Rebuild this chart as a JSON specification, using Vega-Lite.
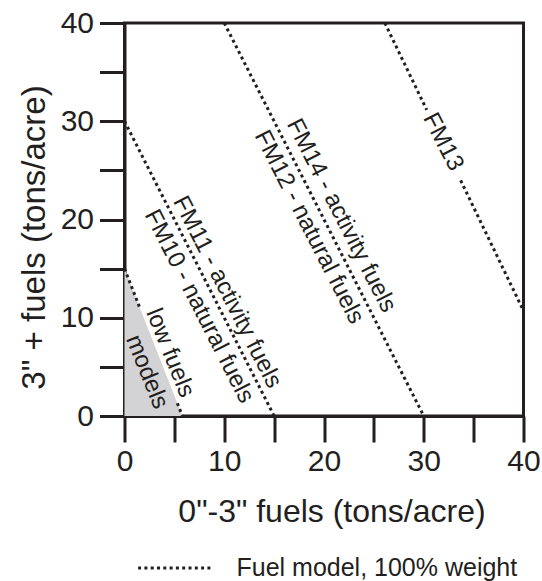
{
  "$schema": "https://vega.github.io/schema/vega-lite/v6.json",
  "autosize": "none",
  "width": 399,
  "height": 393,
  "padding": {"left": 124.5, "top": 23, "right": 18.5, "bottom": 165},
  "background": "white",
  "config": {
    "view": {"stroke": "#231f20", "strokeWidth": 3},
    "font": "Liberation Sans",
    "axis": {
      "grid": false,
      "domainColor": "#231f20",
      "domainWidth": 3,
      "tickColor": "#231f20",
      "tickWidth": 3,
      "labelFont": "Liberation Sans",
      "labelFontSize": 30,
      "labelColor": "#231f20",
      "labelFlush": false,
      "labelOverlap": false,
      "labelBound": false,
      "titleFont": "Liberation Sans",
      "titleFontWeight": "normal",
      "titleColor": "#231f20"
    }
  },
  "datasets": {
    "tri": [
      {"x": 0, "y": 15},
      {"x": 5.8, "y": 0}
    ],
    "lines": [
      {"seg": "a1", "kind": "Fuel model, 100% weight", "x": 0, "y": 15},
      {"seg": "a1", "kind": "Fuel model, 100% weight", "x": 1.5, "y": 11.1},
      {"seg": "a2", "kind": "Fuel model, 100% weight", "x": 5.3, "y": 1.3},
      {"seg": "a2", "kind": "Fuel model, 100% weight", "x": 5.8, "y": 0},
      {"seg": "b", "kind": "Fuel model, 100% weight", "x": 0, "y": 30},
      {"seg": "b", "kind": "Fuel model, 100% weight", "x": 15, "y": 0},
      {"seg": "c", "kind": "Fuel model, 100% weight", "x": 10, "y": 40},
      {"seg": "c", "kind": "Fuel model, 100% weight", "x": 30, "y": 0},
      {"seg": "d1", "kind": "Fuel model, 100% weight", "x": 26.1, "y": 40},
      {"seg": "d1", "kind": "Fuel model, 100% weight", "x": 30.3, "y": 31.15},
      {"seg": "d2", "kind": "Fuel model, 100% weight", "x": 33.7, "y": 23.98},
      {"seg": "d2", "kind": "Fuel model, 100% weight", "x": 40, "y": 10.7}
    ],
    "labels": [
      {"label": "FM11 - activity fuels", "x": 10.28, "y": 12.6},
      {"label": "FM10 - natural fuels", "x": 7.47, "y": 11.15},
      {"label": "FM14 - activity fuels", "x": 21.72, "y": 20.39},
      {"label": "FM12 - natural fuels", "x": 18.49, "y": 19.21},
      {"label": "FM13", "x": 31.93, "y": 27.89}
    ],
    "lowlabels": [
      {"label": "low fuels", "x": 4.56, "y": 6.41},
      {"label": "models", "x": 2.23, "y": 4.48}
    ]
  },
  "layer": [
    {
      "data": {"name": "tri"},
      "mark": {"type": "area", "color": "#d3d3d5"},
      "encoding": {
        "x": {"field": "x", "type": "quantitative", "scale": {"domain": [0, 40], "nice": false}},
        "y": {"field": "y", "type": "quantitative", "scale": {"domain": [0, 40], "nice": false}}
      }
    },
    {
      "data": {"name": "lines"},
      "mark": {"type": "line", "color": "#231f20", "strokeWidth": 3, "strokeCap": "butt"},
      "encoding": {
        "x": {"field": "x", "type": "quantitative"},
        "y": {"field": "y", "type": "quantitative"},
        "detail": {"field": "seg", "type": "nominal"},
        "strokeDash": {
          "field": "kind",
          "type": "nominal",
          "scale": {"range": [[3, 3.3]]},
          "legend": {
            "title": null,
            "orient": "none",
            "legendX": 12,
            "legendY": 507,
            "symbolType": "stroke",
            "symbolSize": 5300,
            "symbolStrokeWidth": 3,
            "symbolStrokeColor": "#231f20",
            "labelFont": "Liberation Sans",
            "labelFontSize": 25,
            "labelColor": "#231f20",
            "labelOffset": 24,
            "labelLimit": 0,
            "padding": 0
          }
        }
      }
    },
    {
      "data": {"name": "labels"},
      "mark": {"type": "text", "font": "Liberation Sans", "fontSize": 24, "color": "#231f20", "angle": 63, "align": "center", "baseline": "middle"},
      "encoding": {
        "x": {"field": "x", "type": "quantitative"},
        "y": {"field": "y", "type": "quantitative"},
        "text": {"field": "label", "type": "nominal"}
      }
    },
    {
      "data": {"name": "lowlabels"},
      "mark": {"type": "text", "font": "Liberation Sans", "fontSize": 24, "color": "#231f20", "angle": 68, "align": "center", "baseline": "middle"},
      "encoding": {
        "x": {"field": "x", "type": "quantitative"},
        "y": {"field": "y", "type": "quantitative"},
        "text": {"field": "label", "type": "nominal"}
      }
    }
  ],
  "resolve": {"scale": {"x": "shared", "y": "shared"}},
  "encoding": {
    "x": {
      "axis": {
        "title": "0\"-3\" fuels (tons/acre)",
        "values": [0, 5, 10, 15, 20, 25, 30, 35, 40],
        "labelExpr": "datum.value % 10 === 0 ? datum.label : ''",
        "tickSize": 26,
        "labelPadding": 4,
        "titleFontSize": 32,
        "titleX": 207,
        "titleY": 105,
        "titleBaseline": "alphabetic",
        "titleAlign": "center"
      }
    },
    "y": {
      "axis": {
        "title": "3\" + fuels (tons/acre)",
        "values": [0, 5, 10, 15, 20, 25, 30, 35, 40],
        "labelExpr": "datum.value % 10 === 0 ? datum.label : ''",
        "tickSize": 25,
        "labelPadding": 6,
        "titleFontSize": 33,
        "titleAngle": -90,
        "titleX": -80,
        "titleY": 214,
        "titleBaseline": "alphabetic",
        "titleAlign": "center"
      }
    }
  }
}
